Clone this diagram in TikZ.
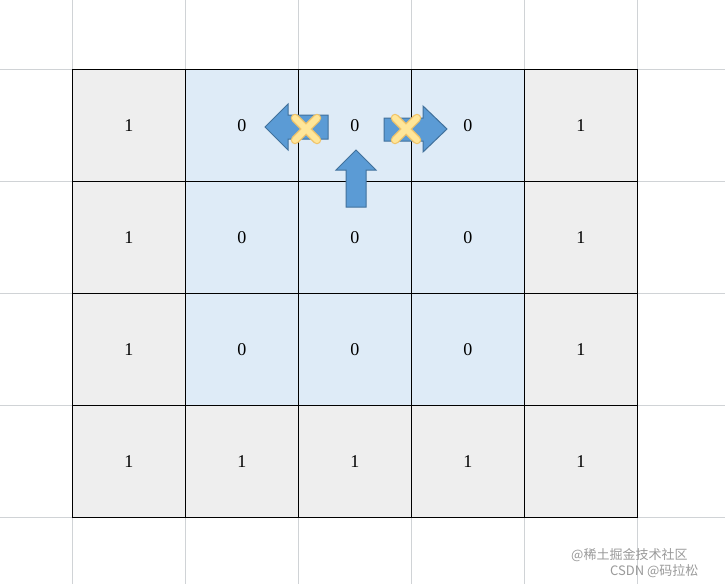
\documentclass[tikz,border=0pt]{standalone}
\usepackage{fontspec}
\setmainfont{Liberation Serif}
\newfontfamily\cjk{Noto Sans CJK SC}
\definecolor{gridgray}{HTML}{D0D3D6}
\definecolor{cellgray}{HTML}{EEEEEE}
\definecolor{cellblue}{HTML}{DEEBF7}
\definecolor{arrowfill}{HTML}{5B9BD5}
\definecolor{arrowdraw}{HTML}{41719C}
\definecolor{crossout}{HTML}{F0C46A}
\definecolor{crossin}{HTML}{FFE699}
\definecolor{wmgray}{HTML}{9A9A9A}
\tikzset{
  cellbox/.style={draw=black, line width=0.9pt, minimum width=113pt, minimum height=112pt, inner sep=0pt, font=\fontsize{18}{21}\selectfont, anchor=north west, text height=12pt, text depth=-6pt},
  graycell/.style={cellbox, fill=cellgray},
  bluecell/.style={cellbox, fill=cellblue},
  bluearrow/.style={fill=arrowfill, draw=arrowdraw, line width=1pt, line join=miter},
  wm/.style={text=wmgray, font=\cjk\fontsize{13}{15}\selectfont, inner sep=0pt}
}
\begin{document}
\begin{tikzpicture}[x=1pt,y=-1pt]
\useasboundingbox (0,0) rectangle (725,584);
\fill[white] (0,0) rectangle (725,584);
% background grid
\foreach \x in {72,185,298,411,524,637} \draw[gridgray, line width=1pt] (\x,0) -- (\x,584);
\foreach \y in {69,181,293,405,517} \draw[gridgray, line width=1pt] (0,\y) -- (725,\y);
% cells
\foreach \r/\vals in {0/{1,0,0,0,1},1/{1,0,0,0,1},2/{1,0,0,0,1},3/{1,1,1,1,1}}{
  \foreach \v [count=\c from 0] in \vals {
    \pgfmathsetmacro{\px}{72+113*\c}
    \pgfmathsetmacro{\py}{69+112*\r}
    \ifnum\v=0
      \node[bluecell] (c-\r-\c) at (\px,\py) {\v};
    \else
      \node[graycell] (c-\r-\c) at (\px,\py) {\v};
    \fi
  }
}
% left arrow
\draw[bluearrow] (265,127) -- (288,104) -- (288,115) -- (328,115) -- (328,139) -- (288,139) -- (288,150) -- cycle;
% right arrow
\draw[bluearrow] (447,129) -- (423,106) -- (423,118) -- (384,118) -- (384,141) -- (423,141) -- (423,152) -- cycle;
% up arrow
\draw[bluearrow] (356,150) -- (376,170) -- (366,170) -- (366,207) -- (346,207) -- (346,170) -- (336,170) -- cycle;
% crosses
\foreach \cx in {306,406}{
  \draw[crossout, line width=8.5pt, line cap=round] (\cx-11,118) -- (\cx+11,140) (\cx-11,140) -- (\cx+11,118);
  \draw[crossin, line width=6pt, line cap=round] (\cx-11,118) -- (\cx+11,140) (\cx-11,140) -- (\cx+11,118);
}
% watermarks
\node[wm, anchor=west] (wm1) at (571,555) {@稀土掘金技术社区};
\node[wm, anchor=west] (wm2) at (610,571) {CSDN @码拉松};
\end{tikzpicture}
\end{document}
